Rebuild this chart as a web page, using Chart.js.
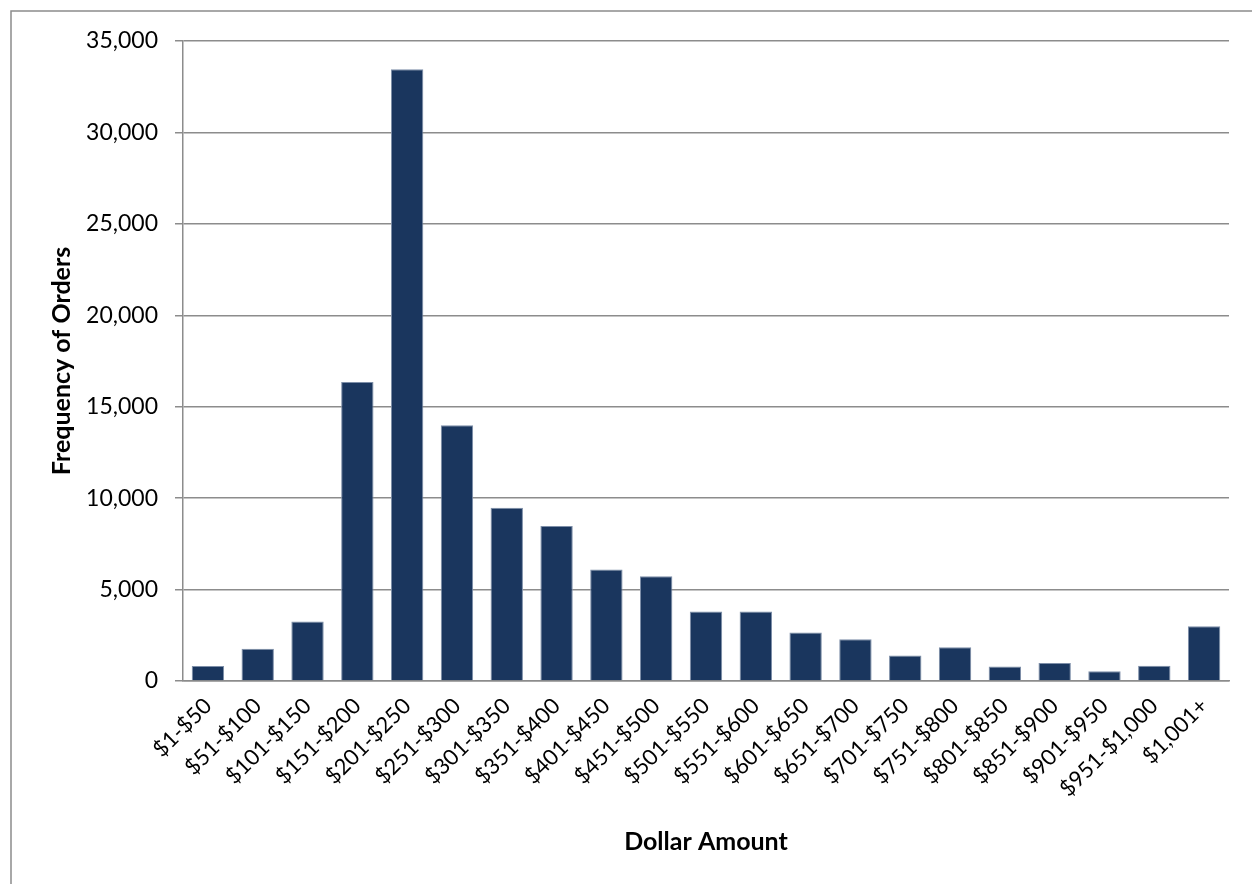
<!DOCTYPE html>
<html>
<head>
<meta charset="utf-8">
<script src="https://cdn.jsdelivr.net/npm/chart.js@4"></script>
<style>
    html, body { margin: 0; padding: 0; background: #fff; }
    #wrap { width: 1252px; height: 884px; }
</style>
</head>
<body>
<div id="wrap"><canvas id="orders-chart" width="1252" height="884"></canvas></div>
<script>
const categories = [
    '$1-$50', '$51-$100', '$101-$150', '$151-$200', '$201-$250', '$251-$300',
    '$301-$350', '$351-$400', '$401-$450', '$451-$500', '$501-$550', '$551-$600',
    '$601-$650', '$651-$700', '$701-$750', '$751-$800', '$801-$850', '$851-$900',
    '$901-$950', '$951-$1,000', '$1,001+'
];
const orderCounts = [
    820, 1770, 3250, 16350, 33450, 13980,
    9470, 8480, 6100, 5730, 3800, 3800,
    2650, 2280, 1390, 1840, 790, 985,
    530, 840, 2990
];
const yTicks = [0, 5000, 10000, 15000, 20000, 25000, 30000, 35000];

const gridGray = '#8c8c8c';
const fontFamily = 'Lato, "Open Sans", sans-serif';

// outer frame of the chart, runs off the right and bottom edges
const framePlugin = {
    id: 'frame',
    beforeDraw(chart) {
        const ctx = chart.ctx;
        ctx.save();
        ctx.fillStyle = '#fff';
        ctx.fillRect(0, 0, chart.width, chart.height);
        ctx.strokeStyle = gridGray;
        ctx.lineWidth = 1.5;
        ctx.strokeRect(11, 11, chart.width + 20, chart.height + 20);
        ctx.restore();
    }
};

new Chart(document.getElementById('orders-chart'), {
    type: 'bar',
    data: {
        labels: categories,
        datasets: [{
            label: 'Frequency of Orders',
            data: orderCounts,
            backgroundColor: '#1a365e',
            borderColor: '#7d8ea8',
            borderWidth: 1,
            barPercentage: 0.65,
            categoryPercentage: 1
        }]
    },
    options: {
        responsive: false,
        animation: false,
        layout: {
            padding: { top: 41, right: 23, left: 0, bottom: 0 }
        },
        plugins: {
            legend: { display: false },
            tooltip: { enabled: false }
        },
        scales: {
            x: {
                grid: { display: false, drawTicks: false },
                border: { display: true, color: gridGray, width: 1.5 },
                ticks: {
                    color: '#000',
                    font: { family: fontFamily, size: 22 },
                    maxRotation: 45,
                    minRotation: 45,
                    padding: 12,
                    autoSkip: false
                },
                title: {
                    display: true,
                    text: 'Dollar Amount',
                    color: '#000',
                    font: { family: fontFamily, size: 25, weight: 'bold' },
                    padding: { top: 0, bottom: 27 }
                },
                afterFit(scale) {
                    scale.height = 203;
                }
            },
            y: {
                min: 0,
                max: 35000,
                afterBuildTicks(scale) {
                    scale.ticks = yTicks.map(v => ({ value: v }));
                },
                grid: { color: gridGray, lineWidth: 1.5, tickLength: 8 },
                border: { display: true, color: gridGray, width: 1.5 },
                ticks: {
                    color: '#000',
                    font: { family: fontFamily, size: 23 },
                    padding: 17,
                    callback: v => v.toLocaleString('en-US')
                },
                title: {
                    display: true,
                    text: 'Frequency of Orders',
                    color: '#000',
                    font: { family: fontFamily, size: 25, weight: 'bold' },
                    padding: { top: 47, bottom: 0 }
                },
                afterFit(scale) {
                    scale.width = 183;
                }
            }
        }
    },
    plugins: [framePlugin]
});
</script>
</body>
</html>
